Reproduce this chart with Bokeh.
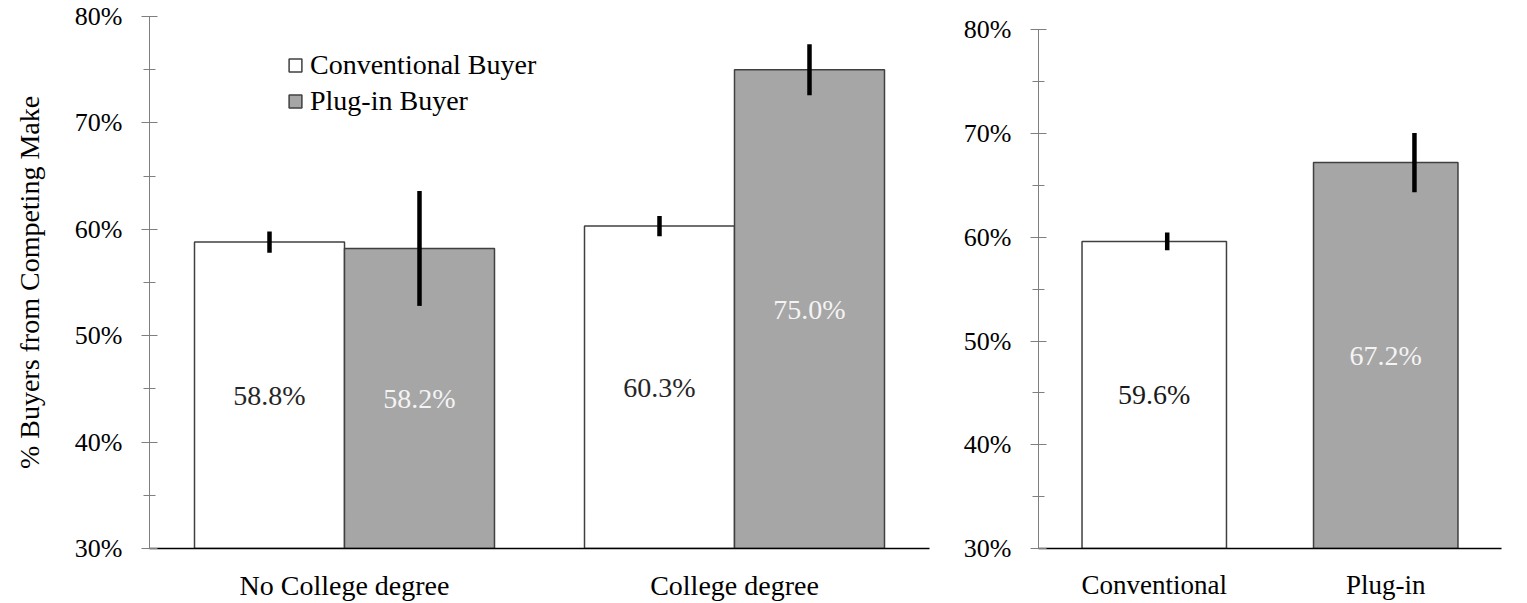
from bokeh.plotting import figure
from bokeh.models import (ColumnDataSource, FactorRange, Range1d, FixedTicker,
                          PrintfTickFormatter, Legend, LegendItem, CDSView, IndexFilter)
from bokeh.transform import dodge
from bokeh.layouts import row
from bokeh.embed import file_html
from bokeh.resources import INLINE
from bokeh.core.properties import value

# ---- data -------------------------------------------------------------
groups = ["No College degree", "College degree"]
conv_by_edu = [58.8, 60.3]          # % buyers from competing make, conventional
plug_by_edu = [58.2, 75.0]          # % buyers from competing make, plug-in
conv_by_edu_err = [1.0, 0.95]
plug_by_edu_err = [5.4, 2.4]

buyer_types = ["Conventional", "Plug-in"]
overall = [59.6, 67.2]
overall_err = [0.85, 2.85]

y_ticks = [30, 40, 50, 60, 70, 80]
y_minor = [35, 45, 55, 65, 75]

# ---- style ------------------------------------------------------------
FONT = "'Liberation Serif', serif"
GREY = "#a6a6a6"
EDGE = "#404040"
BASE = 30


def pct(v):
    return f"{v:.1f}%"


def style(p, cat_size):
    p.grid.visible = False
    p.outline_line_color = None
    p.background_fill_color = "white"
    p.border_fill_color = "white"
    yax = p.yaxis[0]
    yax.ticker = FixedTicker(ticks=y_ticks, minor_ticks=y_minor)
    yax.formatter = PrintfTickFormatter(format="%d%%")
    yax.bounds = (30, 80)
    yax.axis_line_color = "#7f7f7f"
    yax.major_tick_line_color = "#7f7f7f"
    yax.minor_tick_line_color = "#7f7f7f"
    yax.major_tick_in = 8
    yax.major_tick_out = 8
    yax.minor_tick_in = 6
    yax.minor_tick_out = 6
    yax.major_label_text_font = FONT
    yax.major_label_text_font_size = "26px"
    yax.major_label_text_color = "black"
    yax.major_label_standoff = 19
    xax = p.xaxis[0]
    xax.axis_line_color = "black"
    xax.axis_line_width = 1.5
    xax.major_tick_line_color = None
    xax.major_tick_in = 0
    xax.major_tick_out = 0
    xax.major_label_text_font = FONT
    xax.major_label_text_font_size = cat_size
    xax.major_label_text_color = "black"
    xax.major_label_standoff = 21


# ---- left panel: by education ------------------------------------------
src1 = ColumnDataSource(dict(
    group=groups,
    conv=conv_by_edu,
    plug=plug_by_edu,
    conv_lo=[v - e for v, e in zip(conv_by_edu, conv_by_edu_err)],
    conv_hi=[v + e for v, e in zip(conv_by_edu, conv_by_edu_err)],
    plug_lo=[v - e for v, e in zip(plug_by_edu, plug_by_edu_err)],
    plug_hi=[v + e for v, e in zip(plug_by_edu, plug_by_edu_err)],
    conv_mid=[(BASE + v) / 2 for v in conv_by_edu],
    plug_mid=[(BASE + v) / 2 for v in plug_by_edu],
    conv_lab=[pct(v) for v in conv_by_edu],
    plug_lab=[pct(v) for v in plug_by_edu],
))

p1 = figure(x_range=FactorRange(*groups, range_padding=0), y_range=Range1d(30, 80),
            width=960, height=603, min_border_left=149, min_border_right=31,
            min_border_top=16, min_border_bottom=55, title=None,
            output_backend="svg", toolbar_location=None)
style(p1, "28px")
p1.yaxis[0].axis_label = "% Buyers from Competing Make"
p1.yaxis[0].axis_label_text_font = FONT
p1.yaxis[0].axis_label_text_font_size = "28px"
p1.yaxis[0].axis_label_text_font_style = "normal"
p1.yaxis[0].axis_label_text_color = "black"
p1.yaxis[0].axis_label_standoff = 27

BW = 0.3846
OFF = BW / 2
x_conv = dodge("group", -OFF, range=p1.x_range)
x_plug = dodge("group", OFF, range=p1.x_range)

r_conv = p1.vbar(x=x_conv, top="conv", bottom=BASE, width=BW, source=src1,
                 fill_color="white", line_color=EDGE, line_width=1.5)
r_plug = p1.vbar(x=x_plug, top="plug", bottom=BASE, width=BW, source=src1,
                 fill_color=GREY, line_color=EDGE, line_width=1.5)
p1.segment(x0=x_conv, x1=x_conv, y0="conv_lo", y1="conv_hi", source=src1,
           line_color="black", line_width=4.5)
p1.segment(x0=x_plug, x1=x_plug, y0="plug_lo", y1="plug_hi", source=src1,
           line_color="black", line_width=4.5)
p1.text(x=x_conv, y="conv_mid", text="conv_lab", source=src1, text_align="center",
        text_baseline="middle", text_font=value(FONT), text_font_size=value("28px"),
        text_color="#262626")
p1.text(x=x_plug, y="plug_mid", text="plug_lab", source=src1, text_align="center",
        text_baseline="middle", text_font=value(FONT), text_font_size=value("28px"),
        text_color="#f4f4f4")

legend = Legend(items=[LegendItem(label="Conventional Buyer", renderers=[r_conv]),
                       LegendItem(label="Plug-in Buyer", renderers=[r_plug])],
                location=(138, 431), orientation="vertical",
                padding=0, margin=0, spacing=4, label_standoff=7,
                glyph_width=16, glyph_height=16,
                label_text_font=FONT, label_text_font_size="28px",
                label_text_color="black",
                border_line_color=None, background_fill_alpha=0)
p1.add_layout(legend)

# ---- right panel: all buyers ---------------------------------------------
src2 = ColumnDataSource(dict(
    buyer=buyer_types,
    share=overall,
    lo=[v - e for v, e in zip(overall, overall_err)],
    hi=[v + e for v, e in zip(overall, overall_err)],
    mid=[(BASE + v) / 2 for v in overall],
    lab=[pct(v) for v in overall],
    fill=["white", GREY],
    txt=["#1a1a1a", "#f4f4f4"],
))

# the row shares frame tops, so this panel's range runs a bit past 80%
# and its axis line is bounded to 30-80%
p2 = figure(x_range=FactorRange(*buyer_types, range_padding=0), y_range=Range1d(30, 81.28),
            width=567, height=603, min_border_left=73, min_border_right=26,
            min_border_top=16, min_border_bottom=55, title=None,
            output_backend="svg", toolbar_location=None)
style(p2, "27px")

p2.vbar(x="buyer", top="share", bottom=BASE, width=0.624, source=src2,
        fill_color="fill", line_color=EDGE, line_width=1.5)
# whiskers sit a little right of each bar centre
whisker_shift = [0.056, 0.124]
for i, s in enumerate(whisker_shift):
    xw = dodge("buyer", s, range=p2.x_range)
    p2.segment(x0=xw, x1=xw, y0="lo", y1="hi", source=src2,
               view=CDSView(filter=IndexFilter([i])),
               line_color="black", line_width=4.5)
p2.text(x="buyer", y="mid", text="lab", source=src2, text_align="center",
        text_baseline="middle", text_font=value(FONT), text_font_size=value("28px"),
        text_color="txt")

layout = row(p1, p2, spacing=0)
open("out.html", "w").write(file_html(layout, INLINE))
